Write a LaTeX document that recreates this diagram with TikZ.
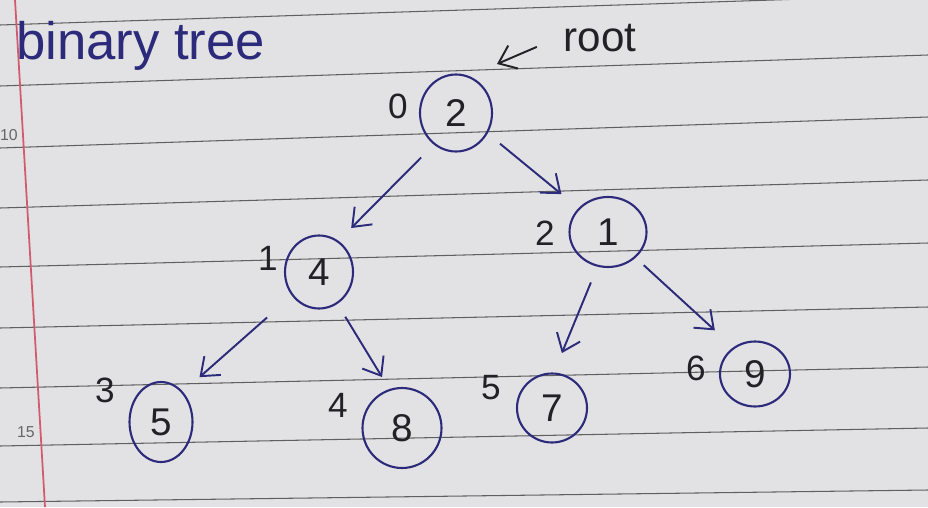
\documentclass[tikz,border=0pt]{standalone}
\usepackage{fontspec}
\setmainfont{Liberation Sans}
\usetikzlibrary{arrows.meta,shapes.geometric}
\definecolor{paper}{RGB}{226,226,228}
\definecolor{ink}{RGB}{44,42,122}
\definecolor{pencil}{RGB}{34,34,38}
\definecolor{margin}{RGB}{210,90,110}

\begin{document}
\begin{tikzpicture}[x=0.02cm,y=-0.02cm,
	>={Straight Barb[length=0.32cm,width=0.5cm]},
	key/.style={ellipse,draw=ink,line width=1.2pt,inner sep=0pt,text=pencil,font=\fontsize{22}{22}\selectfont},
	idx/.style={text=pencil,font=\fontsize{20}{20}\selectfont},
	link/.style={draw=ink,line width=1.1pt,->},
	rule/.style={draw=gray!75!black,line width=0.6pt}]
		%paper
			\fill[paper] (0,0) rectangle (928,507);
			\useasboundingbox (0,0) rectangle (928,507);
			%ruled lines
				\draw[rule] (0,25) -- (928,-5);
				\draw[rule] (0,86) -- (928,55);
				\draw[rule] (0,148) -- (928,117);
				\draw[rule] (0,208) -- (928,180);
				\draw[rule] (0,267) -- (928,243);
				\draw[rule] (0,328) -- (928,307);
				\draw[rule] (0,388) -- (928,367);
				\draw[rule] (0,446) -- (928,428);
				\draw[rule] (0,502) -- (928,490);
			%margin + line numbers
				\draw[margin,line width=1pt] (15,0) -- (45,507);
				\node[text=gray!80!black,font=\fontsize{9}{9}\selectfont] (ten) at (9,135) {10};
				\node[text=gray!80!black,font=\fontsize{9}{9}\selectfont] (fifteen) at (26,432) {15};
		%title
			\node[text=ink,anchor=west,font=\fontsize{30}{30}\selectfont] (title) at (10,46) {binary tree};
		%keys
			\node[key,minimum width=1.44cm,minimum height=1.54cm] (n2) at (456,113) {2};
			\node[key,minimum width=1.54cm,minimum height=1.4cm] (n1) at (608,232) {1};
			\node[key,minimum width=1.36cm,minimum height=1.46cm] (n4) at (319,272) {4};
			\node[key,minimum width=1.26cm,minimum height=1.6cm] (n5) at (161,422) {5};
			\node[key,minimum width=1.58cm,minimum height=1.6cm] (n8) at (402,428) {8};
			\node[key,minimum width=1.4cm,minimum height=1.38cm] (n7) at (552,408) {7};
			\node[key,minimum width=1.4cm,minimum height=1.3cm] (n9) at (755,374) {9};
		%indices
			\node[idx] (i0) at (398,106) {0};
			\node[idx] (i1) at (268,258) {1};
			\node[idx] (i2) at (545,233) {2};
			\node[idx] (i3) at (105,390) {3};
			\node[idx] (i4) at (338,405) {4};
			\node[idx] (i5) at (491,388) {5};
			\node[idx] (i6) at (696,368) {6};
		%root label
			\node[text=pencil,font=\fontsize{24}{24}\selectfont] (rootlbl) at (600,38) {root};
			\coordinate (rootend) at (497,64);
			\draw[link,draw=pencil,shorten <=0.45cm] (rootlbl.west) -- (rootend);
		%links
			\draw[link,shorten <=0.36cm,shorten >=0.36cm] (n2.235) -- (n4.58);
			\draw[link,shorten <=0.32cm,shorten >=0.44cm] (n2.-33) -- (n1.141);
			\draw[link,shorten <=0.66cm,shorten >=0.44cm] (n4.221) -- (n5.54);
			\draw[link,shorten <=0.3cm,shorten >=0.28cm] (n4.-60) -- (n8.108);
			\draw[link,shorten <=0.34cm,shorten >=0.42cm] (n1.253) -- (n7.87);
			\draw[link,shorten <=0.22cm,shorten >=0.5cm] (n1.-43) -- (n9.129);
\end{tikzpicture}
\end{document}
